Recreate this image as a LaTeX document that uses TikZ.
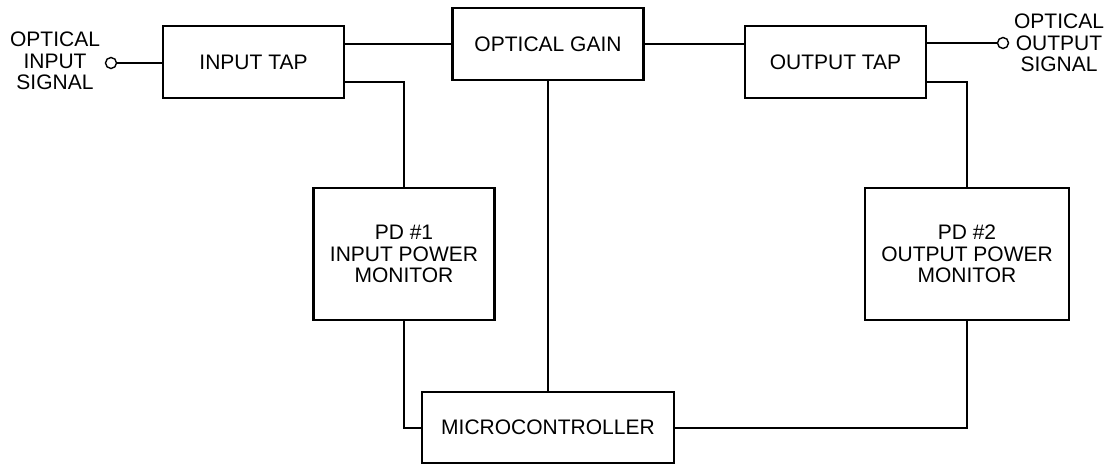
\documentclass[tikz,border=0pt]{standalone}
\usepackage{fontspec}
\setmainfont{Liberation Sans}
\usetikzlibrary{calc,positioning}
\definecolor{ampInk}{HTML}{000000}
\tikzset{
 amp/.style={font=\fontsize{10.5}{10.8}\selectfont,line cap=butt,line join=miter,text=ampInk},
 block/.style={rectangle,draw=ampInk,fill=white,line width=1.4pt,inner sep=0pt,align=center},
 wire/.style={draw=ampInk,line width=1pt},
 port/.style={circle,draw=ampInk,fill=white,line width=.7pt,inner sep=0pt,minimum size=5.5pt},
 sig/.style={align=center,inner sep=0pt}
}

\begin{document}
\begin{tikzpicture}[amp,x=.5pt,y=-.5pt]
 \useasboundingbox (0,0) rectangle (1112,464);
 % top row
 \node[block,minimum width=90.5pt,minimum height=36pt] (intap) at (253.5,62) {INPUT TAP};
 \node[block,minimum width=95.5pt,minimum height=36pt] (gain) at (548,44) {OPTICAL GAIN};
 \node[block,minimum width=90.5pt,minimum height=36pt] (outtap) at (835.5,62) {OUTPUT TAP};
 % monitors and controller
 \node[block,minimum width=90.5pt,minimum height=66pt] (pdone) at (404,254) {PD \#1\\INPUT POWER\\MONITOR};
 \node[block,minimum width=102pt,minimum height=66pt] (pdtwo) at (967,254) {PD \#2\\OUTPUT POWER\\MONITOR};
 \node[block,minimum width=126pt,minimum height=35.5pt] (mcu) at (548,427.5) {MICROCONTROLLER};
 % signal ends
 \node[sig] (inlbl) at (55,61) {OPTICAL\\INPUT\\SIGNAL};
 \node[sig] (outlbl) at (1059,43) {OPTICAL\\OUTPUT\\SIGNAL};
 \node[port] (inport) at (111,63) {};
 \node[port] (outport) at (1003,43) {};
 % connectors
 \draw[wire] (inport) -- (inport -| intap.west);
 \draw[wire] (intap.east |- gain.west) -- (gain.west);
 \draw[wire] (gain.east) -- (gain.east -| outtap.west);
 \draw[wire] (outtap.east |- outport) -- (outport);
 \draw[wire] ([yshift=8.5pt]intap.south east) -| (pdone.north);
 \draw[wire] ([yshift=8.5pt]outtap.south east) -| (pdtwo.north);
 \draw[wire] (gain.south) -- (mcu.north);
 \draw[wire] (pdone.south) |- (mcu.west);
 \draw[wire] (pdtwo.south) |- (mcu.east);
\end{tikzpicture}
\end{document}
